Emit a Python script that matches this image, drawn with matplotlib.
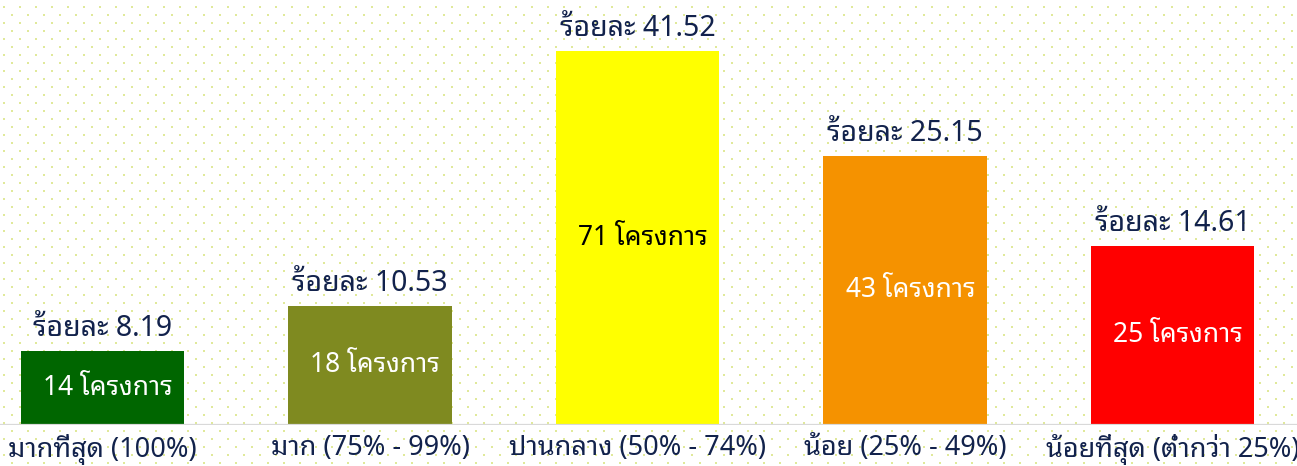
import matplotlib
matplotlib.use("Agg")
import matplotlib.pyplot as plt
import numpy as np

plt.rcParams['font.family'] = ['Noto Sans Thai Looped', 'Noto Sans', 'DejaVu Sans']

categories = ['มากที่สุด (100%)', 'มาก (75% - 99%)', 'ปานกลาง (50% - 74%)',
              'น้อย (25% - 49%)', 'น้อยที่สุด (ต่ำกว่า 25%)']
projects = [14, 18, 71, 43, 25]
percent = [8.19, 10.53, 41.52, 25.15, 14.61]
# drawn bar heights as they appear in the picture (same scale as percent)
bar_heights = [8.17, 13.17, 41.52, 29.85, 19.84]
colors = ['#006600', '#7f8a20', '#ffff00', '#f59200', '#ff0000']
inner_colors = ['white', 'white', 'black', 'white', 'white']

navy = '#12224c'
W, H = 1297, 466
fig = plt.figure(figsize=(W / 100, H / 100), dpi=100)

# dotted background
bg = fig.add_axes([0, 0, 1, 1], zorder=0)
bg.set_xlim(0, W)
bg.set_ylim(H, 0)
bg.axis('off')
rows = np.arange(7, H, 8)
for k, yy in enumerate(rows):
    xs = np.arange(4 + 8 * (k % 2), W, 16)
    bg.scatter(xs, np.full(len(xs), yy), marker='s', s=2.4, color='#e0e99a',
               linewidths=0)

base = 424.5
ax = fig.add_axes([0, (H - base) / H, 1, base / H], zorder=1)
ax.patch.set_alpha(0)
ax.set_xlim(-102.5 / 267.5, -102.5 / 267.5 + W / 267.5)
ax.set_ylim(0, base / 8.996)

x = np.arange(len(categories))
bars = ax.bar(x, bar_heights, width=0.611, color=colors, zorder=2)
ax.axhline(0, color='#d9d9d9', lw=1.6, zorder=3)

for xi, h, p, n, c in zip(x, bar_heights, percent, projects, inner_colors):
    ax.annotate(f'ร้อยละ {p:.2f}', (xi, h), xytext=(0, 6), textcoords='offset points',
                ha='center', va='bottom', fontsize=20.5, color=navy)
    ax.text(xi + 0.02, h / 2, f'{n} โครงการ', ha='center', va='center',
            fontsize=19, color=c, zorder=4)

ax.set_xticks(x)
ax.set_xticklabels(categories, fontsize=19.5, color=navy)
ax.tick_params(axis='x', length=0, pad=7)
ax.set_yticks([])
for s in ax.spines.values():
    s.set_visible(False)

fig.savefig('out.png', dpi=100)
